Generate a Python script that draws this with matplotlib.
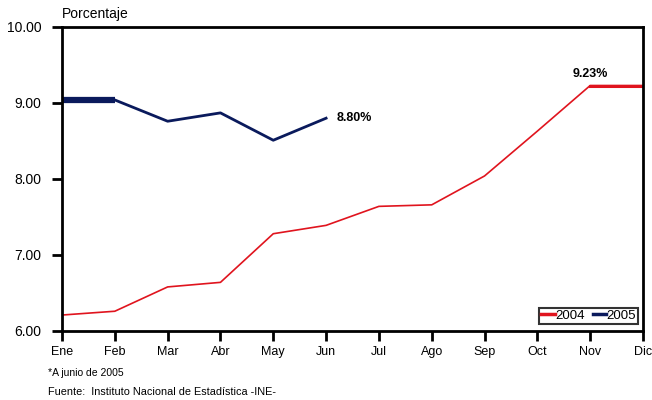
import matplotlib
matplotlib.use("Agg")
import matplotlib.pyplot as plt

months = ["Ene", "Feb", "Mar", "Abr", "May", "Jun", "Jul", "Ago", "Sep", "Oct", "Nov", "Dic"]
s2004 = [6.21, 6.26, 6.58, 6.64, 7.28, 7.39, 7.64, 7.66, 8.04, 8.63, 9.23, 9.23]
s2005 = [9.04, 9.04, 8.76, 8.87, 8.51, 8.80]
yticks = [6.0, 7.0, 8.0, 9.0, 10.0]

plt.rcParams['font.family'] = ['Liberation Sans', 'DejaVu Sans']

fig = plt.figure(figsize=(6.52, 4.0), dpi=100)
ax = fig.add_axes([62/652, 1-331/400, (643-62)/652, (331-27)/400])

red = "#e0141e"
navy = "#0a1a5c"
x04 = list(range(len(s2004)))
x05 = list(range(len(s2005)))
ax.plot(x04, s2004, color=red, lw=1.2, label="2004")
ax.plot(x04[-2:], s2004[-2:], color=red, lw=2.2)
ax.plot(x05, s2005, color=navy, lw=2.0, label="2005")
ax.plot(x05[:2], s2005[:2], color=navy, lw=4.5, solid_capstyle='butt')

ax.set_xlim(0, 11)
ax.set_ylim(6, 10)
ax.set_xticks(x04)
ax.set_xticklabels(months, fontsize=9)
ax.set_yticks(yticks)
ax.set_yticklabels([f"{v:.2f}" for v in yticks], fontsize=10)
ax.tick_params(axis='both', direction='out', length=7, width=2, color='black')
ax.tick_params(axis='y', pad=8)
ax.tick_params(axis='x', pad=4)
for sp in ax.spines.values():
    sp.set_linewidth(2)
    sp.set_color('black')

ax.text(5.2, s2005[-1], f"{s2005[-1]:.2f}%", fontsize=9, fontweight='bold', va='center', ha='left')
ax.text(10.0, s2004[-2] + 0.07, f"{s2004[-2]:.2f}%", fontsize=9, fontweight='bold', va='bottom', ha='center')

leg = ax.legend(loc='lower right', ncol=2, fontsize=9.5, frameon=True, fancybox=False,
                edgecolor='black', handlelength=1.0, handletextpad=0.05, columnspacing=0.6,
                borderpad=0.15, borderaxespad=0, bbox_to_anchor=((638-62)/581, (331-324)/304))
leg.get_frame().set_linewidth(1.5)
for h in leg.get_lines():
    h.set_linewidth(2.5)

fig.text(62/652, 1-14/400, "Porcentaje", fontsize=10, va='center', ha='left')
fig.text(48/652, 1-373/400, "*A junio de 2005", fontsize=7.5, va='center', ha='left')
fig.text(48/652, 1-392/400, "Fuente:  Instituto Nacional de Estadística -INE-", fontsize=7.8, va='center', ha='left')

fig.savefig("out.png", dpi=100)
